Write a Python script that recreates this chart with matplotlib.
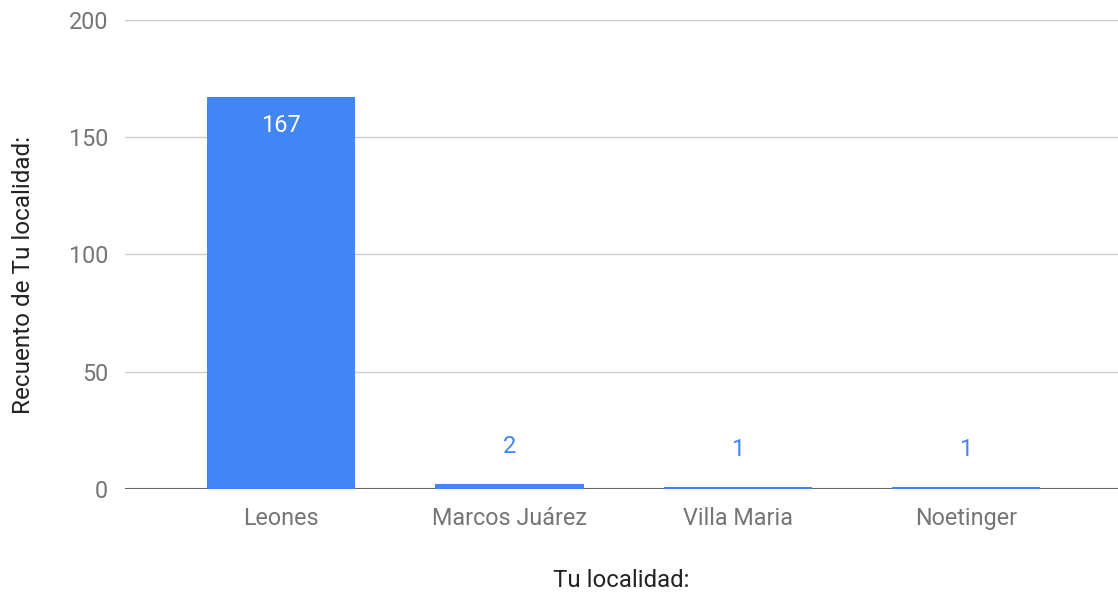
import matplotlib
matplotlib.use('Agg')
import matplotlib.pyplot as plt

# data
localidades = ['Leones', 'Marcos Juárez', 'Villa Maria', 'Noetinger']
recuento = [167, 2, 1, 1]
y_ticks = [0, 50, 100, 150, 200]

bar_color = '#4285F4'
plt.rcParams['font.family'] = ['Roboto', 'DejaVu Sans']

fig = plt.figure(figsize=(11.18, 5.94), dpi=100)
ax = fig.add_axes([0.1118, 0.1768, 0.8882, 0.7895])

x = list(range(len(localidades)))
bars = ax.bar(x, recuento, width=0.65, color=bar_color, zorder=3)

# value labels: inside the tall bar, above the short ones
for xi, v in zip(x, recuento):
    if v > 20:
        ax.annotate(str(v), (xi, v), xytext=(0, -20), textcoords='offset points',
                    ha='center', va='center', color='white', fontsize=17)
    else:
        ax.annotate(str(v), (xi, v), xytext=(0, 27), textcoords='offset points',
                    ha='center', va='center', color=bar_color, fontsize=17)

ax.set_xlim(-0.683, 3.665)
ax.set_ylim(0, 200)
ax.set_yticks(y_ticks)
ax.set_xticks(x)
ax.set_xticklabels(localidades)
ax.tick_params(axis='both', length=0, labelsize=16.8, colors='#757575')
ax.tick_params(axis='y', pad=12)
ax.tick_params(axis='x', pad=13)

ax.grid(axis='y', color='#cccccc', linewidth=1, zorder=0)
ax.axhline(0, color='#666666', linewidth=1.5, zorder=2)
for s in ax.spines.values():
    s.set_visible(False)

ax.set_xlabel('Tu localidad:', fontsize=17.3, color='#222222', labelpad=28)
ax.set_ylabel('Recuento de Tu localidad:', fontsize=17.5, color='#222222')
ax.yaxis.set_label_coords(-0.0906, 0.456)

fig.savefig('out.png', dpi=100)
